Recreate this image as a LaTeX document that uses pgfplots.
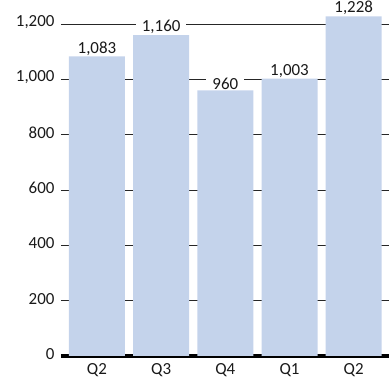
\documentclass[border=0pt]{standalone}
\usepackage{fontspec}
\setmainfont{Carlito}
\usepackage{pgfplots}
\pgfplotsset{compat=1.18}
\definecolor{barblue}{RGB}{196,211,235}
\definecolor{txt}{RGB}{25,25,25}
\begin{document}
\begin{tikzpicture}
\begin{axis}[
  scale only axis,
  width=328bp, height=356bp,
  xmin=-0.56, xmax=4.55,
  ymin=0, ymax=1287,
  axis x line*=bottom, axis y line*=left,
  x axis line style={draw=black, line width=3.5bp},
  y axis line style={draw=none},
  xtick={0,1,2,3,4},
  xticklabels={Q2,Q3,Q4,Q1,Q2},
  ytick={0,200,400,600,800,1000,1200},
  major tick length=0pt,
  ymajorgrids,
  grid style={draw=black!85, line width=1bp},
  /pgf/number format/assume math mode=true,
  /pgf/number format/1000 sep={,},
  tick label style={font=\fontsize{17}{17}\selectfont, text=txt},
  yticklabel style={xshift=-3bp, yshift=2bp},
  xticklabel style={yshift=-4bp},
  clip=false,
]
\addplot[ybar, bar width=56bp, fill=barblue, draw=none,
  nodes near coords,
  nodes near coords style={font=\fontsize{17}{17}\selectfont, text=txt, fill=white, inner xsep=6bp, inner ysep=0.5bp, anchor=south, yshift=0.5bp,
    /pgf/number format/assume math mode=true, /pgf/number format/1000 sep={,}}]
  coordinates {(0,1083) (1,1160) (2,960) (3,1003) (4,1228)};
\end{axis}
\pgfresetboundingbox
\path[use as bounding box] (-61bp,-29bp) rectangle (329bp,356bp);
\end{tikzpicture}
\end{document}
